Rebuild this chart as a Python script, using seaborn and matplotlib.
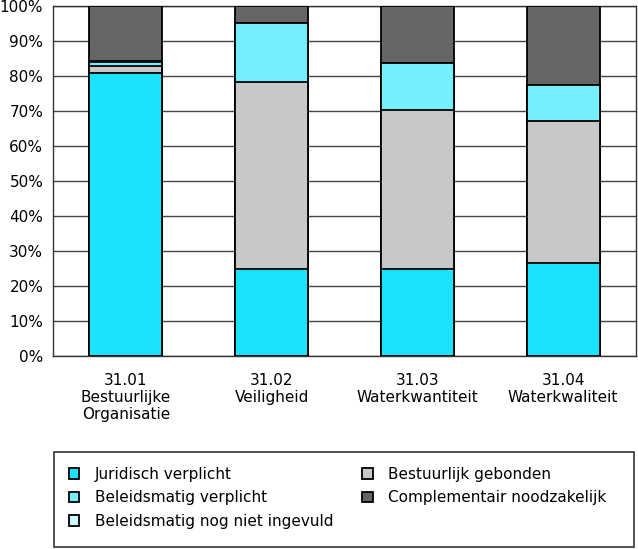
import numpy as np
import seaborn as sns
import matplotlib.pyplot as plt
from matplotlib.patches import Patch, Rectangle
from matplotlib.ticker import FixedLocator, PercentFormatter

# categories (tick labels) and stacked shares in percent
categories = ["31.01\nBestuurlijke\nOrganisatie", "31.02\nVeiligheid",
              "31.03\nWaterkwantiteit", "31.04\nWaterkwaliteit"]
juridisch = [81.0, 24.9, 24.8, 26.7]
bestuurlijk = [1.9, 53.3, 45.5, 40.5]
beleid_verplicht = [1.2, 16.9, 13.4, 10.2]
beleid_nog_niet = [0.3, 0.0, 0.0, 0.0]
complementair = [15.6, 4.9, 16.3, 22.6]

series = [
    ("Juridisch verplicht", juridisch, "#1ce3fd"),
    ("Bestuurlijk gebonden", bestuurlijk, "#c8c8c8"),
    ("Beleidsmatig verplicht", beleid_verplicht, "#75effe"),
    ("Beleidsmatig nog niet ingevuld", beleid_nog_niet, "#ccf8ff"),
    ("Complementair noodzakelijk", complementair, "#666666"),
]

sns.set_style("white")
plt.rcParams["font.family"] = ["DejaVu Sans"]
plt.rcParams["font.size"] = 11
plt.rcParams["text.color"] = "black"

fig = plt.figure(figsize=(6.38, 5.49), dpi=100)
ax = fig.add_axes([53 / 638, 1 - 356 / 549, 583 / 638, 350 / 549])

# stacked bars: draw the cumulative totals from top layer downwards
cums = np.cumsum([s[1] for s in series], axis=0)
for (name, vals, col), cum in reversed(list(zip(series, cums))):
    sns.barplot(x=categories, y=cum, color=col, saturation=1, width=0.5,
                edgecolor="black", linewidth=1.3, ax=ax, zorder=3)

ax.set_ylim(0, 100)
ax.set_xlim(-0.5, 3.5)
ax.yaxis.set_major_locator(FixedLocator(np.arange(0, 101, 10)))
ax.yaxis.set_major_formatter(PercentFormatter(decimals=0))
ax.yaxis.grid(True, color="#444444", linewidth=1)
ax.set_axisbelow(True)
for sp in ax.spines.values():
    sp.set_color("#333333")
    sp.set_linewidth(1)
ax.tick_params(axis="y", direction="out", length=5, width=1, color="#333333",
               pad=2, labelsize=11, labelcolor="black")
ax.tick_params(axis="x", which="major", length=0, pad=12, labelsize=11,
               labelcolor="black")
ax.xaxis.set_minor_locator(FixedLocator([-0.5, 0.5, 1.5, 2.5, 3.5]))
ax.tick_params(axis="x", which="minor", direction="out", length=9, width=1,
               color="#333333")
ax.set_xlabel("")
ax.set_ylabel("")
for lab in ax.get_xticklabels():
    lab.set_linespacing(1.2)

# legend with a separate box
handles = [Patch(facecolor=c, edgecolor="black", linewidth=1.3, label=n)
           for n, v, c in series]
order = [0, 2, 3, 1, 4]
leg = fig.legend([handles[i] for i in order], [series[i][0] for i in order],
                 ncol=2, loc="upper left", bbox_to_anchor=(69 / 638, 1 - 467 / 549),
                 frameon=False, handlelength=0.68, handleheight=0.68,
                 handletextpad=1.0, labelspacing=0.55, columnspacing=1.9,
                 borderaxespad=0, borderpad=0, fontsize=11)
fig.patches.append(Rectangle((54 / 638, 1 - 547 / 549), 580 / 638, 95 / 549,
                             transform=fig.transFigure, fill=False,
                             edgecolor="#333333", linewidth=1.2))

fig.savefig("out.png", dpi=100)
